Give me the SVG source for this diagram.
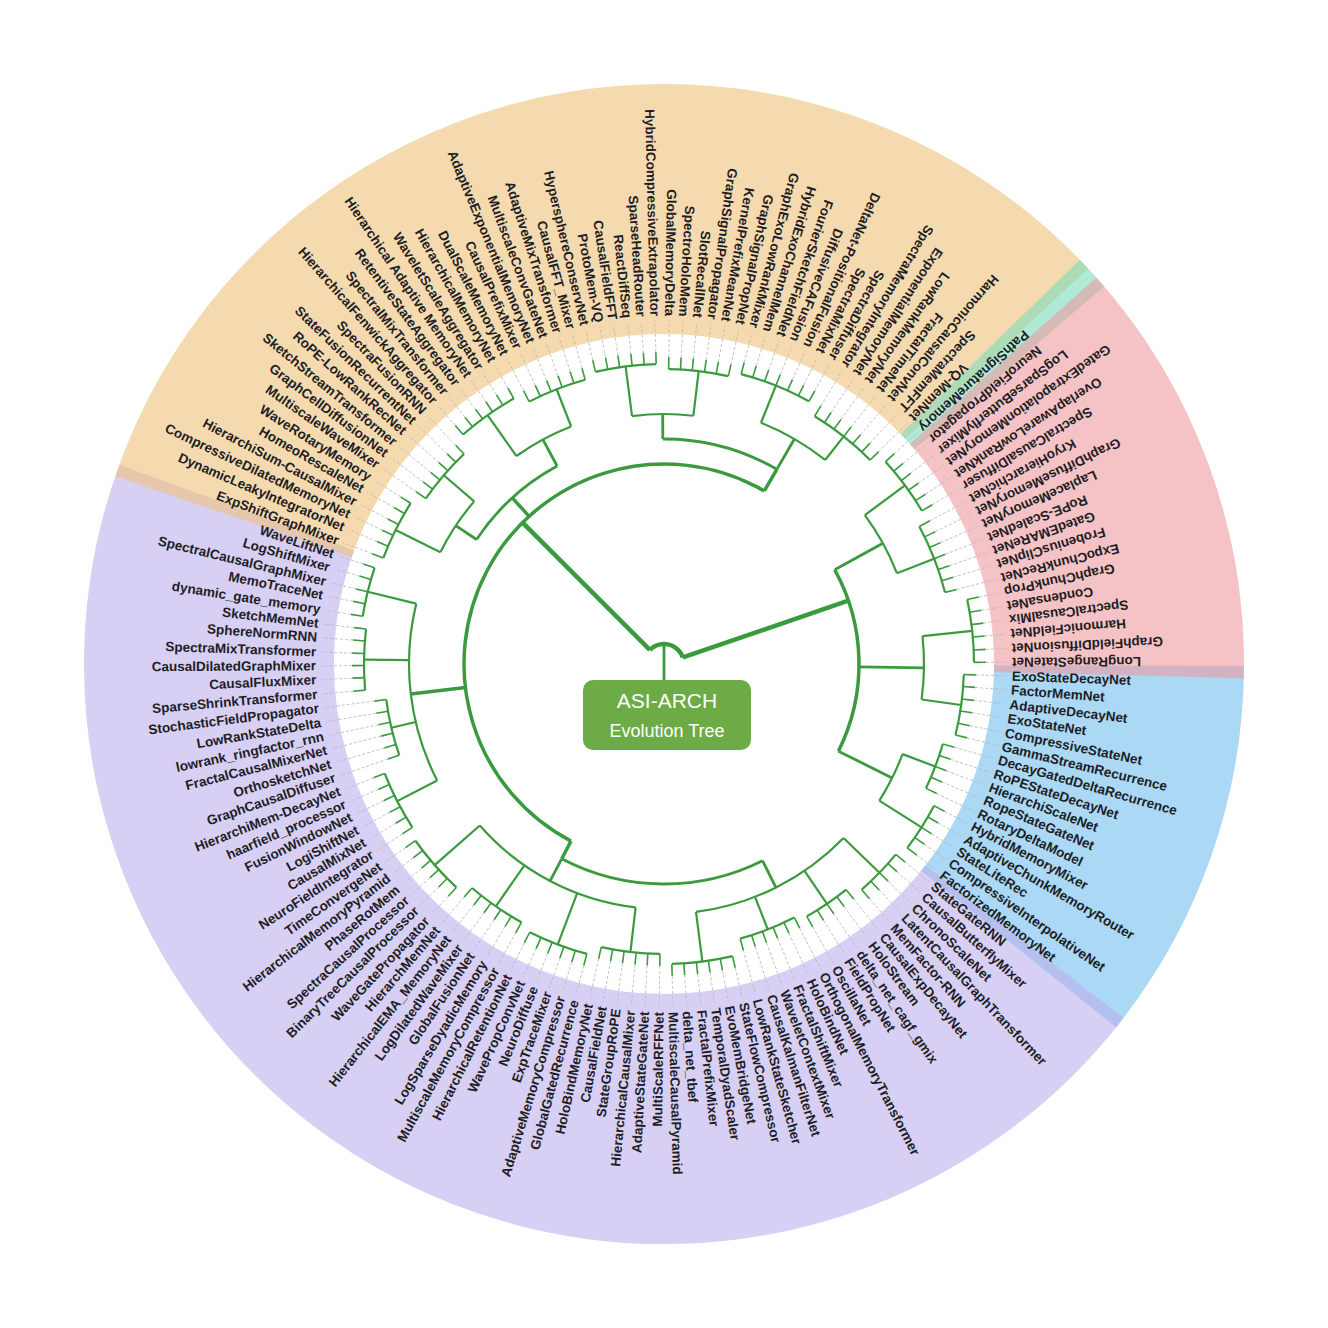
<svg xmlns="http://www.w3.org/2000/svg" width="1328" height="1328" viewBox="0 0 1328 1328">
<style>
.sec{fill:none;stroke-width:250;opacity:0.6}
.br{fill:none;stroke:#3a9a3e;stroke-linecap:butt}
.w5{stroke-width:4.5}.w4{stroke-width:3.5}.w3{stroke-width:2.8}.w2{stroke-width:2.2}
.lf{stroke:#3a9a3e;stroke-width:1.6;fill:none}
.ds{stroke:#b8b8b8;stroke-width:0.8;stroke-dasharray:3 2;fill:none}
text{font-family:"Liberation Sans",Arial,sans-serif;font-size:13.5px;font-weight:bold;fill:#1e1e24;dominant-baseline:central}
text.f{text-anchor:end}
</style>
<rect width="1328" height="1328" fill="#fff"/>
<g id="sectors">
<circle class="sec" cx="664" cy="664" r="455" pathLength="360" stroke="#71beee" stroke-dasharray="38.6 400" transform="rotate(0.2 664 664)"/>
<circle class="sec" cx="664" cy="664" r="455" pathLength="360" stroke="#bcafed" stroke-dasharray="162.5 400" transform="rotate(37.6 664 664)"/>
<circle class="sec" cx="664" cy="664" r="455" pathLength="360" stroke="#eec17b" stroke-dasharray="118.1 400" transform="rotate(198.9 664 664)"/>
<circle class="sec" cx="664" cy="664" r="455" pathLength="360" stroke="#7bdcbb" stroke-dasharray="3.6 400" transform="rotate(315.8 664 664)"/>
<circle class="sec" cx="664" cy="664" r="455" pathLength="360" stroke="#ee9b9e" stroke-dasharray="43.2 400" transform="rotate(318.2 664 664)"/>
</g>
<g id="connectors">
<path class="br w3" d="M664 644V680"/>
<circle class="br w5" cx="664" cy="664" r="20" pathLength="360" stroke-dasharray="116 400" transform="rotate(225 664 664)"/>
<path class="br w5" d="M684 664H864" transform="rotate(225 664 664)"/>
<path class="br w5" d="M684 664H859" transform="rotate(341 664 664)"/>
<circle class="br w4" cx="664" cy="664" r="200" pathLength="360" stroke-dasharray="182.4 400" transform="rotate(117.7 664 664)"/>
<circle class="br w4" cx="664" cy="664" r="195" pathLength="360" stroke-dasharray="55.45 400" transform="rotate(331.1 664 664)"/>
<path class="br w4" d="M864 664H884" transform="rotate(117.7 664 664)"/>
<path class="br w4" d="M864 664H919" transform="rotate(173.25 664 664)"/>
<path class="br w4" d="M864 664H889" transform="rotate(227.6 664 664)"/>
<path class="br w4" d="M864 664H889" transform="rotate(300.1 664 664)"/>
<path class="br w3" d="M859 664H914" transform="rotate(331.1 664 664)"/>
<path class="br w3" d="M859 664H924" transform="rotate(360.85 664 664)"/>
<path class="br w3" d="M859 664H919" transform="rotate(386.55 664 664)"/>
<circle class="br w3" cx="664" cy="664" r="220" pathLength="360" stroke-dasharray="54.3 400" transform="rotate(63.4 664 664)"/>
<circle class="br w3" cx="664" cy="664" r="225" pathLength="360" stroke-dasharray="28.05 400" transform="rotate(213.6 664 664)"/>
<circle class="br w3" cx="664" cy="664" r="225" pathLength="360" stroke-dasharray="30.4 400" transform="rotate(269.7 664 664)"/>
<path class="br w3" d="M884 664H914" transform="rotate(63.4 664 664)"/>
<path class="br w3" d="M884 664H909" transform="rotate(117.7 664 664)"/>
<path class="br w3" d="M889 664H914" transform="rotate(213.6 664 664)"/>
<path class="br w3" d="M889 664H919" transform="rotate(241.65 664 664)"/>
<path class="br w3" d="M889 664H914" transform="rotate(269.7 664 664)"/>
<path class="br w3" d="M889 664H924" transform="rotate(300.1 664 664)"/>
<circle class="br w2" cx="664" cy="664" r="250" pathLength="360" stroke-dasharray="38.55 400" transform="rotate(44.1 664 664)"/>
<circle class="br w2" cx="664" cy="664" r="245" pathLength="360" stroke-dasharray="42.1 400" transform="rotate(96.65 664 664)"/>
<circle class="br w2" cx="664" cy="664" r="255" pathLength="360" stroke-dasharray="40.9 400" transform="rotate(152.8 664 664)"/>
<circle class="br w2" cx="664" cy="664" r="250" pathLength="360" stroke-dasharray="14.05 400" transform="rotate(206.55 664 664)"/>
<circle class="br w2" cx="664" cy="664" r="255" pathLength="360" stroke-dasharray="14 400" transform="rotate(234.65 664 664)"/>
<circle class="br w2" cx="664" cy="664" r="250" pathLength="360" stroke-dasharray="14.1 400" transform="rotate(262.65 664 664)"/>
<circle class="br w2" cx="664" cy="664" r="260" pathLength="360" stroke-dasharray="16.4 400" transform="rotate(291.9 664 664)"/>
<circle class="br w2" cx="664" cy="664" r="250" pathLength="360" stroke-dasharray="15.25 400" transform="rotate(323.45 664 664)"/>
<circle class="br w2" cx="664" cy="664" r="260" pathLength="360" stroke-dasharray="14 400" transform="rotate(353.85 664 664)"/>
<circle class="br w2" cx="664" cy="664" r="255" pathLength="360" stroke-dasharray="11.7 400" transform="rotate(380.7 664 664)"/>
<path class="br w2" d="M914 664H964" transform="rotate(44.1 664 664)"/>
<path class="br w2" d="M914 664H954" transform="rotate(55.8 664 664)"/>
<path class="br w2" d="M914 664H949" transform="rotate(68.65 664 664)"/>
<path class="br w2" d="M914 664H964" transform="rotate(82.65 664 664)"/>
<path class="br w2" d="M909 664H954" transform="rotate(96.65 664 664)"/>
<path class="br w2" d="M909 664H964" transform="rotate(110.75 664 664)"/>
<path class="br w2" d="M909 664H959" transform="rotate(124.75 664 664)"/>
<path class="br w2" d="M909 664H969" transform="rotate(138.75 664 664)"/>
<path class="br w2" d="M919 664H964" transform="rotate(152.8 664 664)"/>
<path class="br w2" d="M919 664H944" transform="rotate(166.85 664 664)"/>
<path class="br w2" d="M919 664H964" transform="rotate(180.85 664 664)"/>
<path class="br w2" d="M919 664H969" transform="rotate(193.7 664 664)"/>
<path class="br w2" d="M914 664H964" transform="rotate(206.55 664 664)"/>
<path class="br w2" d="M914 664H954" transform="rotate(220.6 664 664)"/>
<path class="br w2" d="M919 664H969" transform="rotate(234.65 664 664)"/>
<path class="br w2" d="M919 664H959" transform="rotate(248.65 664 664)"/>
<path class="br w2" d="M914 664H964" transform="rotate(262.65 664 664)"/>
<path class="br w2" d="M914 664H959" transform="rotate(276.75 664 664)"/>
<path class="br w2" d="M924 664H964" transform="rotate(291.9 664 664)"/>
<path class="br w2" d="M924 664H954" transform="rotate(308.3 664 664)"/>
<path class="br w2" d="M914 664H964" transform="rotate(323.45 664 664)"/>
<path class="br w2" d="M914 664H954" transform="rotate(338.7 664 664)"/>
<path class="br w2" d="M924 664H974" transform="rotate(353.85 664 664)"/>
<path class="br w2" d="M924 664H964" transform="rotate(367.85 664 664)"/>
<path class="br w2" d="M919 664H954" transform="rotate(380.7 664 664)"/>
<path class="br w2" d="M919 664H969" transform="rotate(392.4 664 664)"/>
<circle class="br w2" cx="664" cy="664" r="300" pathLength="360" stroke-dasharray="9.4 400" transform="rotate(39.4 664 664)"/>
<circle class="br w2" cx="664" cy="664" r="290" pathLength="360" stroke-dasharray="9.4 400" transform="rotate(51.1 664 664)"/>
<circle class="br w2" cx="664" cy="664" r="285" pathLength="360" stroke-dasharray="11.7 400" transform="rotate(62.8 664 664)"/>
<circle class="br w2" cx="664" cy="664" r="300" pathLength="360" stroke-dasharray="11.7 400" transform="rotate(76.8 664 664)"/>
<circle class="br w2" cx="664" cy="664" r="290" pathLength="360" stroke-dasharray="11.7 400" transform="rotate(90.8 664 664)"/>
<circle class="br w2" cx="664" cy="664" r="300" pathLength="360" stroke-dasharray="11.7 400" transform="rotate(104.9 664 664)"/>
<circle class="br w2" cx="664" cy="664" r="295" pathLength="360" stroke-dasharray="11.7 400" transform="rotate(118.9 664 664)"/>
<circle class="br w2" cx="664" cy="664" r="305" pathLength="360" stroke-dasharray="11.7 400" transform="rotate(132.9 664 664)"/>
<circle class="br w2" cx="664" cy="664" r="300" pathLength="360" stroke-dasharray="11.6 400" transform="rotate(147 664 664)"/>
<circle class="br w2" cx="664" cy="664" r="280" pathLength="360" stroke-dasharray="11.7 400" transform="rotate(161 664 664)"/>
<circle class="br w2" cx="664" cy="664" r="300" pathLength="360" stroke-dasharray="11.7 400" transform="rotate(175 664 664)"/>
<circle class="br w2" cx="664" cy="664" r="305" pathLength="360" stroke-dasharray="9.4 400" transform="rotate(189 664 664)"/>
<circle class="br w2" cx="664" cy="664" r="300" pathLength="360" stroke-dasharray="11.7 400" transform="rotate(200.7 664 664)"/>
<circle class="br w2" cx="664" cy="664" r="290" pathLength="360" stroke-dasharray="11.6 400" transform="rotate(214.8 664 664)"/>
<circle class="br w2" cx="664" cy="664" r="305" pathLength="360" stroke-dasharray="11.7 400" transform="rotate(228.8 664 664)"/>
<circle class="br w2" cx="664" cy="664" r="295" pathLength="360" stroke-dasharray="11.7 400" transform="rotate(242.8 664 664)"/>
<circle class="br w2" cx="664" cy="664" r="300" pathLength="360" stroke-dasharray="11.7 400" transform="rotate(256.8 664 664)"/>
<circle class="br w2" cx="664" cy="664" r="295" pathLength="360" stroke-dasharray="11.7 400" transform="rotate(270.9 664 664)"/>
<circle class="br w2" cx="664" cy="664" r="300" pathLength="360" stroke-dasharray="14 400" transform="rotate(284.9 664 664)"/>
<circle class="br w2" cx="664" cy="664" r="290" pathLength="360" stroke-dasharray="14 400" transform="rotate(301.3 664 664)"/>
<circle class="br w2" cx="664" cy="664" r="300" pathLength="360" stroke-dasharray="11.7 400" transform="rotate(317.6 664 664)"/>
<circle class="br w2" cx="664" cy="664" r="290" pathLength="360" stroke-dasharray="14 400" transform="rotate(331.7 664 664)"/>
<circle class="br w2" cx="664" cy="664" r="310" pathLength="360" stroke-dasharray="11.7 400" transform="rotate(348 664 664)"/>
<circle class="br w2" cx="664" cy="664" r="300" pathLength="360" stroke-dasharray="11.7 400" transform="rotate(2 664 664)"/>
<circle class="br w2" cx="664" cy="664" r="290" pathLength="360" stroke-dasharray="9.4 400" transform="rotate(16 664 664)"/>
<circle class="br w2" cx="664" cy="664" r="305" pathLength="360" stroke-dasharray="9.4 400" transform="rotate(27.7 664 664)"/>
</g>
<g id="leaves">
<g transform="rotate(2.0 664 664)"><path class="lf" d="M964 664h12"/><path class="ds" d="M976 664H1007"/><text x="1012" y="664">ExoStateDecayNet</text></g>
<g transform="rotate(4.3 664 664)"><path class="lf" d="M964 664h12"/><path class="ds" d="M976 664H1007"/><text x="1012" y="664">FactorMemNet</text></g>
<g transform="rotate(6.7 664 664)"><path class="lf" d="M964 664h12"/><path class="ds" d="M976 664H1007"/><text x="1012" y="664">AdaptiveDecayNet</text></g>
<g transform="rotate(9.0 664 664)"><path class="lf" d="M964 664h12"/><path class="ds" d="M976 664H1007"/><text x="1012" y="664">ExoStateNet</text></g>
<g transform="rotate(11.4 664 664)"><path class="lf" d="M964 664h12"/><path class="ds" d="M976 664H1007"/><text x="1012" y="664">CompressiveStateNet</text></g>
<g transform="rotate(13.7 664 664)"><path class="lf" d="M964 664h12"/><path class="ds" d="M976 664H1007"/><text x="1012" y="664">GammaStreamRecurrence</text></g>
<g transform="rotate(16.0 664 664)"><path class="lf" d="M954 664h12"/><path class="ds" d="M966 664H1007"/><text x="1012" y="664">DecayGatedDeltaRecurrence</text></g>
<g transform="rotate(18.4 664 664)"><path class="lf" d="M954 664h12"/><path class="ds" d="M966 664H1007"/><text x="1012" y="664">RoPEStateDecayNet</text></g>
<g transform="rotate(20.7 664 664)"><path class="lf" d="M954 664h12"/><path class="ds" d="M966 664H1007"/><text x="1012" y="664">HierarchiScaleNet</text></g>
<g transform="rotate(23.0 664 664)"><path class="lf" d="M954 664h12"/><path class="ds" d="M966 664H1007"/><text x="1012" y="664">RopeStateGateNet</text></g>
<g transform="rotate(25.4 664 664)"><path class="lf" d="M954 664h12"/><path class="ds" d="M966 664H1007"/><text x="1012" y="664">RotaryDeltaModel</text></g>
<g transform="rotate(27.7 664 664)"><path class="lf" d="M969 664h12"/><path class="ds" d="M981 664H1007"/><text x="1012" y="664">HybridMemoryMixer</text></g>
<g transform="rotate(30.1 664 664)"><path class="lf" d="M969 664h12"/><path class="ds" d="M981 664H1007"/><text x="1012" y="664">AdaptiveChunkMemoryRouter</text></g>
<g transform="rotate(32.4 664 664)"><path class="lf" d="M969 664h12"/><path class="ds" d="M981 664H1007"/><text x="1012" y="664">StateLiteRec</text></g>
<g transform="rotate(34.7 664 664)"><path class="lf" d="M969 664h12"/><path class="ds" d="M981 664H1007"/><text x="1012" y="664">CompressiveInterpolativeNet</text></g>
<g transform="rotate(37.1 664 664)"><path class="lf" d="M969 664h12"/><path class="ds" d="M981 664H1007"/><text x="1012" y="664">FactorizedMemoryNet</text></g>
<g transform="rotate(39.4 664 664)"><path class="lf" d="M964 664h12"/><path class="ds" d="M976 664H1007"/><text x="1012" y="664">StateGateRNN</text></g>
<g transform="rotate(41.7 664 664)"><path class="lf" d="M964 664h12"/><path class="ds" d="M976 664H1007"/><text x="1012" y="664">CausalButterflyMixer</text></g>
<g transform="rotate(44.1 664 664)"><path class="lf" d="M964 664h12"/><path class="ds" d="M976 664H1007"/><text x="1012" y="664">ChronoScaleNet</text></g>
<g transform="rotate(46.4 664 664)"><path class="lf" d="M964 664h12"/><path class="ds" d="M976 664H1007"/><text x="1012" y="664">LatentCausalGraphTransformer</text></g>
<g transform="rotate(48.8 664 664)"><path class="lf" d="M964 664h12"/><path class="ds" d="M976 664H1007"/><text x="1012" y="664">MemFactor-RNN</text></g>
<g transform="rotate(51.1 664 664)"><path class="lf" d="M954 664h12"/><path class="ds" d="M966 664H1007"/><text x="1012" y="664">CausalExpDecayNet</text></g>
<g transform="rotate(53.4 664 664)"><path class="lf" d="M954 664h12"/><path class="ds" d="M966 664H1007"/><text x="1012" y="664">HoloStream</text></g>
<g transform="rotate(55.8 664 664)"><path class="lf" d="M954 664h12"/><path class="ds" d="M966 664H1007"/><text x="1012" y="664">delta_net_cagf_gmix</text></g>
<g transform="rotate(58.1 664 664)"><path class="lf" d="M954 664h12"/><path class="ds" d="M966 664H1007"/><text x="1012" y="664">FieldPropNet</text></g>
<g transform="rotate(60.5 664 664)"><path class="lf" d="M954 664h12"/><path class="ds" d="M966 664H1007"/><text x="1012" y="664">OscillaNet</text></g>
<g transform="rotate(62.8 664 664)"><path class="lf" d="M949 664h12"/><path class="ds" d="M961 664H1007"/><text x="1012" y="664">OrthogonalMemoryTransformer</text></g>
<g transform="rotate(65.1 664 664)"><path class="lf" d="M949 664h12"/><path class="ds" d="M961 664H1007"/><text x="1012" y="664">HoloBindNet</text></g>
<g transform="rotate(67.5 664 664)"><path class="lf" d="M949 664h12"/><path class="ds" d="M961 664H1007"/><text x="1012" y="664">FractalShiftMixer</text></g>
<g transform="rotate(69.8 664 664)"><path class="lf" d="M949 664h12"/><path class="ds" d="M961 664H1007"/><text x="1012" y="664">WaveletContextMixer</text></g>
<g transform="rotate(72.1 664 664)"><path class="lf" d="M949 664h12"/><path class="ds" d="M961 664H1007"/><text x="1012" y="664">CausalKalmanFilterNet</text></g>
<g transform="rotate(74.5 664 664)"><path class="lf" d="M949 664h12"/><path class="ds" d="M961 664H1007"/><text x="1012" y="664">LowRankStateSketcher</text></g>
<g transform="rotate(76.8 664 664)"><path class="lf" d="M964 664h12"/><path class="ds" d="M976 664H1007"/><text x="1012" y="664">StateFlowCompressor</text></g>
<g transform="rotate(79.2 664 664)"><path class="lf" d="M964 664h12"/><path class="ds" d="M976 664H1007"/><text x="1012" y="664">EvoMemBridgeNet</text></g>
<g transform="rotate(81.5 664 664)"><path class="lf" d="M964 664h12"/><path class="ds" d="M976 664H1007"/><text x="1012" y="664">TemporalDyadScaler</text></g>
<g transform="rotate(83.8 664 664)"><path class="lf" d="M964 664h12"/><path class="ds" d="M976 664H1007"/><text x="1012" y="664">FractalPrefixMixer</text></g>
<g transform="rotate(86.2 664 664)"><path class="lf" d="M964 664h12"/><path class="ds" d="M976 664H1007"/><text x="1012" y="664">delta_net_tbef</text></g>
<g transform="rotate(88.5 664 664)"><path class="lf" d="M964 664h12"/><path class="ds" d="M976 664H1007"/><text x="1012" y="664">MultiscaleCausalPyramid</text></g>
<g transform="rotate(90.8 664 664)"><path class="lf" d="M954 664h12"/><path class="ds" d="M966 664H1007"/><text class="f" x="1012" y="664" transform="rotate(180 1012 664)">MultiScaleRFFNet</text></g>
<g transform="rotate(93.2 664 664)"><path class="lf" d="M954 664h12"/><path class="ds" d="M966 664H1007"/><text class="f" x="1012" y="664" transform="rotate(180 1012 664)">AdaptiveStateGateNet</text></g>
<g transform="rotate(95.5 664 664)"><path class="lf" d="M954 664h12"/><path class="ds" d="M966 664H1007"/><text class="f" x="1012" y="664" transform="rotate(180 1012 664)">HierarchicalCausalMixer</text></g>
<g transform="rotate(97.9 664 664)"><path class="lf" d="M954 664h12"/><path class="ds" d="M966 664H1007"/><text class="f" x="1012" y="664" transform="rotate(180 1012 664)">StateGroupRoPE</text></g>
<g transform="rotate(100.2 664 664)"><path class="lf" d="M954 664h12"/><path class="ds" d="M966 664H1007"/><text class="f" x="1012" y="664" transform="rotate(180 1012 664)">CausalFieldNet</text></g>
<g transform="rotate(102.5 664 664)"><path class="lf" d="M954 664h12"/><path class="ds" d="M966 664H1007"/><text class="f" x="1012" y="664" transform="rotate(180 1012 664)">HoloBindMemoryNet</text></g>
<g transform="rotate(104.9 664 664)"><path class="lf" d="M964 664h12"/><path class="ds" d="M976 664H1007"/><text class="f" x="1012" y="664" transform="rotate(180 1012 664)">GlobalGatedRecurrence</text></g>
<g transform="rotate(107.2 664 664)"><path class="lf" d="M964 664h12"/><path class="ds" d="M976 664H1007"/><text class="f" x="1012" y="664" transform="rotate(180 1012 664)">AdaptiveMemoryCompressor</text></g>
<g transform="rotate(109.5 664 664)"><path class="lf" d="M964 664h12"/><path class="ds" d="M976 664H1007"/><text class="f" x="1012" y="664" transform="rotate(180 1012 664)">ExpTraceMixer</text></g>
<g transform="rotate(111.9 664 664)"><path class="lf" d="M964 664h12"/><path class="ds" d="M976 664H1007"/><text class="f" x="1012" y="664" transform="rotate(180 1012 664)">NeuroDiffuse</text></g>
<g transform="rotate(114.2 664 664)"><path class="lf" d="M964 664h12"/><path class="ds" d="M976 664H1007"/><text class="f" x="1012" y="664" transform="rotate(180 1012 664)">WavePropConvNet</text></g>
<g transform="rotate(116.6 664 664)"><path class="lf" d="M964 664h12"/><path class="ds" d="M976 664H1007"/><text class="f" x="1012" y="664" transform="rotate(180 1012 664)">HierarchicalRetentionNet</text></g>
<g transform="rotate(118.9 664 664)"><path class="lf" d="M959 664h12"/><path class="ds" d="M971 664H1007"/><text class="f" x="1012" y="664" transform="rotate(180 1012 664)">MultiscaleMemoryCompressor</text></g>
<g transform="rotate(121.2 664 664)"><path class="lf" d="M959 664h12"/><path class="ds" d="M971 664H1007"/><text class="f" x="1012" y="664" transform="rotate(180 1012 664)">LogSparseDyadicMemory</text></g>
<g transform="rotate(123.6 664 664)"><path class="lf" d="M959 664h12"/><path class="ds" d="M971 664H1007"/><text class="f" x="1012" y="664" transform="rotate(180 1012 664)">GlobalFusionNet</text></g>
<g transform="rotate(125.9 664 664)"><path class="lf" d="M959 664h12"/><path class="ds" d="M971 664H1007"/><text class="f" x="1012" y="664" transform="rotate(180 1012 664)">LogDilatedWaveMixer</text></g>
<g transform="rotate(128.3 664 664)"><path class="lf" d="M959 664h12"/><path class="ds" d="M971 664H1007"/><text class="f" x="1012" y="664" transform="rotate(180 1012 664)">HierarchicalEMA_MemoryNet</text></g>
<g transform="rotate(130.6 664 664)"><path class="lf" d="M959 664h12"/><path class="ds" d="M971 664H1007"/><text class="f" x="1012" y="664" transform="rotate(180 1012 664)">HierarchMemNet</text></g>
<g transform="rotate(132.9 664 664)"><path class="lf" d="M969 664h12"/><path class="ds" d="M981 664H1007"/><text class="f" x="1012" y="664" transform="rotate(180 1012 664)">WaveGatePropagator</text></g>
<g transform="rotate(135.3 664 664)"><path class="lf" d="M969 664h12"/><path class="ds" d="M981 664H1007"/><text class="f" x="1012" y="664" transform="rotate(180 1012 664)">BinaryTreeCausalProcessor</text></g>
<g transform="rotate(137.6 664 664)"><path class="lf" d="M969 664h12"/><path class="ds" d="M981 664H1007"/><text class="f" x="1012" y="664" transform="rotate(180 1012 664)">SpectraCausalProcessor</text></g>
<g transform="rotate(139.9 664 664)"><path class="lf" d="M969 664h12"/><path class="ds" d="M981 664H1007"/><text class="f" x="1012" y="664" transform="rotate(180 1012 664)">PhaseRotMem</text></g>
<g transform="rotate(142.3 664 664)"><path class="lf" d="M969 664h12"/><path class="ds" d="M981 664H1007"/><text class="f" x="1012" y="664" transform="rotate(180 1012 664)">HierarchicalMemoryPyramid</text></g>
<g transform="rotate(144.6 664 664)"><path class="lf" d="M969 664h12"/><path class="ds" d="M981 664H1007"/><text class="f" x="1012" y="664" transform="rotate(180 1012 664)">TimeConvergeNet</text></g>
<g transform="rotate(147.0 664 664)"><path class="lf" d="M964 664h12"/><path class="ds" d="M976 664H1007"/><text class="f" x="1012" y="664" transform="rotate(180 1012 664)">NeuroFieldIntegrator</text></g>
<g transform="rotate(149.3 664 664)"><path class="lf" d="M964 664h12"/><path class="ds" d="M976 664H1007"/><text class="f" x="1012" y="664" transform="rotate(180 1012 664)">CausalMixNet</text></g>
<g transform="rotate(151.6 664 664)"><path class="lf" d="M964 664h12"/><path class="ds" d="M976 664H1007"/><text class="f" x="1012" y="664" transform="rotate(180 1012 664)">LogiShiftNet</text></g>
<g transform="rotate(154.0 664 664)"><path class="lf" d="M964 664h12"/><path class="ds" d="M976 664H1007"/><text class="f" x="1012" y="664" transform="rotate(180 1012 664)">FusionWindowNet</text></g>
<g transform="rotate(156.3 664 664)"><path class="lf" d="M964 664h12"/><path class="ds" d="M976 664H1007"/><text class="f" x="1012" y="664" transform="rotate(180 1012 664)">haarfield_processor</text></g>
<g transform="rotate(158.6 664 664)"><path class="lf" d="M964 664h12"/><path class="ds" d="M976 664H1007"/><text class="f" x="1012" y="664" transform="rotate(180 1012 664)">HierarchiMem-DecayNet</text></g>
<g transform="rotate(161.0 664 664)"><path class="lf" d="M944 664h12"/><path class="ds" d="M956 664H1007"/><text class="f" x="1012" y="664" transform="rotate(180 1012 664)">GraphCausalDiffuser</text></g>
<g transform="rotate(163.3 664 664)"><path class="lf" d="M944 664h12"/><path class="ds" d="M956 664H1007"/><text class="f" x="1012" y="664" transform="rotate(180 1012 664)">OrthosketchNet</text></g>
<g transform="rotate(165.7 664 664)"><path class="lf" d="M944 664h12"/><path class="ds" d="M956 664H1007"/><text class="f" x="1012" y="664" transform="rotate(180 1012 664)">FractalCausalMixerNet</text></g>
<g transform="rotate(168.0 664 664)"><path class="lf" d="M944 664h12"/><path class="ds" d="M956 664H1007"/><text class="f" x="1012" y="664" transform="rotate(180 1012 664)">lowrank_ringfactor_rnn</text></g>
<g transform="rotate(170.3 664 664)"><path class="lf" d="M944 664h12"/><path class="ds" d="M956 664H1007"/><text class="f" x="1012" y="664" transform="rotate(180 1012 664)">LowRankStateDelta</text></g>
<g transform="rotate(172.7 664 664)"><path class="lf" d="M944 664h12"/><path class="ds" d="M956 664H1007"/><text class="f" x="1012" y="664" transform="rotate(180 1012 664)">StochasticFieldPropagator</text></g>
<g transform="rotate(175.0 664 664)"><path class="lf" d="M964 664h12"/><path class="ds" d="M976 664H1007"/><text class="f" x="1012" y="664" transform="rotate(180 1012 664)">SparseShrinkTransformer</text></g>
<g transform="rotate(177.4 664 664)"><path class="lf" d="M964 664h12"/><path class="ds" d="M976 664H1007"/><text class="f" x="1012" y="664" transform="rotate(180 1012 664)">CausalFluxMixer</text></g>
<g transform="rotate(179.7 664 664)"><path class="lf" d="M964 664h12"/><path class="ds" d="M976 664H1007"/><text class="f" x="1012" y="664" transform="rotate(180 1012 664)">CausalDilatedGraphMixer</text></g>
<g transform="rotate(182.0 664 664)"><path class="lf" d="M964 664h12"/><path class="ds" d="M976 664H1007"/><text class="f" x="1012" y="664" transform="rotate(180 1012 664)">SpectraMixTransformer</text></g>
<g transform="rotate(184.4 664 664)"><path class="lf" d="M964 664h12"/><path class="ds" d="M976 664H1007"/><text class="f" x="1012" y="664" transform="rotate(180 1012 664)">SphereNormRNN</text></g>
<g transform="rotate(186.7 664 664)"><path class="lf" d="M964 664h12"/><path class="ds" d="M976 664H1007"/><text class="f" x="1012" y="664" transform="rotate(180 1012 664)">SketchMemNet</text></g>
<g transform="rotate(189.0 664 664)"><path class="lf" d="M969 664h12"/><path class="ds" d="M981 664H1007"/><text class="f" x="1012" y="664" transform="rotate(180 1012 664)">dynamic_gate_memory</text></g>
<g transform="rotate(191.4 664 664)"><path class="lf" d="M969 664h12"/><path class="ds" d="M981 664H1007"/><text class="f" x="1012" y="664" transform="rotate(180 1012 664)">MemoTraceNet</text></g>
<g transform="rotate(193.7 664 664)"><path class="lf" d="M969 664h12"/><path class="ds" d="M981 664H1007"/><text class="f" x="1012" y="664" transform="rotate(180 1012 664)">SpectralCausalGraphMixer</text></g>
<g transform="rotate(196.1 664 664)"><path class="lf" d="M969 664h12"/><path class="ds" d="M981 664H1007"/><text class="f" x="1012" y="664" transform="rotate(180 1012 664)">LogShiftMixer</text></g>
<g transform="rotate(198.4 664 664)"><path class="lf" d="M969 664h12"/><path class="ds" d="M981 664H1007"/><text class="f" x="1012" y="664" transform="rotate(180 1012 664)">WaveLiftNet</text></g>
<g transform="rotate(200.7 664 664)"><path class="lf" d="M964 664h12"/><path class="ds" d="M976 664H1007"/><text class="f" x="1012" y="664" transform="rotate(180 1012 664)">ExpShiftGraphMixer</text></g>
<g transform="rotate(203.1 664 664)"><path class="lf" d="M964 664h12"/><path class="ds" d="M976 664H1007"/><text class="f" x="1012" y="664" transform="rotate(180 1012 664)">DynamicLeakyIntegratorNet</text></g>
<g transform="rotate(205.4 664 664)"><path class="lf" d="M964 664h12"/><path class="ds" d="M976 664H1007"/><text class="f" x="1012" y="664" transform="rotate(180 1012 664)">CompressiveDilatedMemoryNet</text></g>
<g transform="rotate(207.7 664 664)"><path class="lf" d="M964 664h12"/><path class="ds" d="M976 664H1007"/><text class="f" x="1012" y="664" transform="rotate(180 1012 664)">HierarchiSum-CausalMixer</text></g>
<g transform="rotate(210.1 664 664)"><path class="lf" d="M964 664h12"/><path class="ds" d="M976 664H1007"/><text class="f" x="1012" y="664" transform="rotate(180 1012 664)">HomeoRescaleNet</text></g>
<g transform="rotate(212.4 664 664)"><path class="lf" d="M964 664h12"/><path class="ds" d="M976 664H1007"/><text class="f" x="1012" y="664" transform="rotate(180 1012 664)">WaveRotaryMemory</text></g>
<g transform="rotate(214.8 664 664)"><path class="lf" d="M954 664h12"/><path class="ds" d="M966 664H1007"/><text class="f" x="1012" y="664" transform="rotate(180 1012 664)">MultiscaleWaveMixer</text></g>
<g transform="rotate(217.1 664 664)"><path class="lf" d="M954 664h12"/><path class="ds" d="M966 664H1007"/><text class="f" x="1012" y="664" transform="rotate(180 1012 664)">GraphCellDiffusionNet</text></g>
<g transform="rotate(219.4 664 664)"><path class="lf" d="M954 664h12"/><path class="ds" d="M966 664H1007"/><text class="f" x="1012" y="664" transform="rotate(180 1012 664)">SketchStreamTransformer</text></g>
<g transform="rotate(221.8 664 664)"><path class="lf" d="M954 664h12"/><path class="ds" d="M966 664H1007"/><text class="f" x="1012" y="664" transform="rotate(180 1012 664)">RoPE-LowRankRecNet</text></g>
<g transform="rotate(224.1 664 664)"><path class="lf" d="M954 664h12"/><path class="ds" d="M966 664H1007"/><text class="f" x="1012" y="664" transform="rotate(180 1012 664)">StateFusionRecurrentNet</text></g>
<g transform="rotate(226.4 664 664)"><path class="lf" d="M954 664h12"/><path class="ds" d="M966 664H1007"/><text class="f" x="1012" y="664" transform="rotate(180 1012 664)">SpectraFusionRNN</text></g>
<g transform="rotate(228.8 664 664)"><path class="lf" d="M969 664h12"/><path class="ds" d="M981 664H1007"/><text class="f" x="1012" y="664" transform="rotate(180 1012 664)">HierarchicalFenwickAggregator</text></g>
<g transform="rotate(231.1 664 664)"><path class="lf" d="M969 664h12"/><path class="ds" d="M981 664H1007"/><text class="f" x="1012" y="664" transform="rotate(180 1012 664)">SpectralMixTransformer</text></g>
<g transform="rotate(233.5 664 664)"><path class="lf" d="M969 664h12"/><path class="ds" d="M981 664H1007"/><text class="f" x="1012" y="664" transform="rotate(180 1012 664)">RetentiveStateAggregator</text></g>
<g transform="rotate(235.8 664 664)"><path class="lf" d="M969 664h12"/><path class="ds" d="M981 664H1007"/><text class="f" x="1012" y="664" transform="rotate(180 1012 664)">Hierarchical Adaptive MemoryNet</text></g>
<g transform="rotate(238.1 664 664)"><path class="lf" d="M969 664h12"/><path class="ds" d="M981 664H1007"/><text class="f" x="1012" y="664" transform="rotate(180 1012 664)">WaveletScaleAggregator</text></g>
<g transform="rotate(240.5 664 664)"><path class="lf" d="M969 664h12"/><path class="ds" d="M981 664H1007"/><text class="f" x="1012" y="664" transform="rotate(180 1012 664)">HierarchicalMemoryNet</text></g>
<g transform="rotate(242.8 664 664)"><path class="lf" d="M959 664h12"/><path class="ds" d="M971 664H1007"/><text class="f" x="1012" y="664" transform="rotate(180 1012 664)">DualScaleMemoryNet</text></g>
<g transform="rotate(245.2 664 664)"><path class="lf" d="M959 664h12"/><path class="ds" d="M971 664H1007"/><text class="f" x="1012" y="664" transform="rotate(180 1012 664)">CausalPrefixMixer</text></g>
<g transform="rotate(247.5 664 664)"><path class="lf" d="M959 664h12"/><path class="ds" d="M971 664H1007"/><text class="f" x="1012" y="664" transform="rotate(180 1012 664)">AdaptiveExponentialMemoryNet</text></g>
<g transform="rotate(249.8 664 664)"><path class="lf" d="M959 664h12"/><path class="ds" d="M971 664H1007"/><text class="f" x="1012" y="664" transform="rotate(180 1012 664)">MultiscaleConvGateNet</text></g>
<g transform="rotate(252.2 664 664)"><path class="lf" d="M959 664h12"/><path class="ds" d="M971 664H1007"/><text class="f" x="1012" y="664" transform="rotate(180 1012 664)">AdaptiveMixTransformer</text></g>
<g transform="rotate(254.5 664 664)"><path class="lf" d="M959 664h12"/><path class="ds" d="M971 664H1007"/><text class="f" x="1012" y="664" transform="rotate(180 1012 664)">CausalFFT_Mixer</text></g>
<g transform="rotate(256.8 664 664)"><path class="lf" d="M964 664h12"/><path class="ds" d="M976 664H1007"/><text class="f" x="1012" y="664" transform="rotate(180 1012 664)">HypersphereConservNet</text></g>
<g transform="rotate(259.2 664 664)"><path class="lf" d="M964 664h12"/><path class="ds" d="M976 664H1007"/><text class="f" x="1012" y="664" transform="rotate(180 1012 664)">ProtoMem-VQ</text></g>
<g transform="rotate(261.5 664 664)"><path class="lf" d="M964 664h12"/><path class="ds" d="M976 664H1007"/><text class="f" x="1012" y="664" transform="rotate(180 1012 664)">CausalFieldFFT</text></g>
<g transform="rotate(263.9 664 664)"><path class="lf" d="M964 664h12"/><path class="ds" d="M976 664H1007"/><text class="f" x="1012" y="664" transform="rotate(180 1012 664)">ReactDiffSeq</text></g>
<g transform="rotate(266.2 664 664)"><path class="lf" d="M964 664h12"/><path class="ds" d="M976 664H1007"/><text class="f" x="1012" y="664" transform="rotate(180 1012 664)">SparseHeadRouter</text></g>
<g transform="rotate(268.5 664 664)"><path class="lf" d="M964 664h12"/><path class="ds" d="M976 664H1007"/><text class="f" x="1012" y="664" transform="rotate(180 1012 664)">HybridCompressiveExtrapolator</text></g>
<g transform="rotate(270.9 664 664)"><path class="lf" d="M959 664h12"/><path class="ds" d="M971 664H1007"/><text class="f" x="1012" y="664" transform="rotate(180 1012 664)">GlobalMemoryDelta</text></g>
<g transform="rotate(273.2 664 664)"><path class="lf" d="M959 664h12"/><path class="ds" d="M971 664H1007"/><text class="f" x="1012" y="664" transform="rotate(180 1012 664)">SpectroHoloMem</text></g>
<g transform="rotate(275.5 664 664)"><path class="lf" d="M959 664h12"/><path class="ds" d="M971 664H1007"/><text class="f" x="1012" y="664" transform="rotate(180 1012 664)">SlotRecallNet</text></g>
<g transform="rotate(277.9 664 664)"><path class="lf" d="M959 664h12"/><path class="ds" d="M971 664H1007"/><text class="f" x="1012" y="664" transform="rotate(180 1012 664)">GraphSignalPropagator</text></g>
<g transform="rotate(280.2 664 664)"><path class="lf" d="M959 664h12"/><path class="ds" d="M971 664H1007"/><text class="f" x="1012" y="664" transform="rotate(180 1012 664)">KernelPrefixMeanNet</text></g>
<g transform="rotate(282.6 664 664)"><path class="lf" d="M959 664h12"/><path class="ds" d="M971 664H1007"/><text class="f" x="1012" y="664" transform="rotate(180 1012 664)">GraphSignalPropNet</text></g>
<g transform="rotate(284.9 664 664)"><path class="lf" d="M964 664h12"/><path class="ds" d="M976 664H1007"/><text class="f" x="1012" y="664" transform="rotate(180 1012 664)">GraphExoLowRankMixer</text></g>
<g transform="rotate(287.2 664 664)"><path class="lf" d="M964 664h12"/><path class="ds" d="M976 664H1007"/><text class="f" x="1012" y="664" transform="rotate(180 1012 664)">HybridExoChannelMem</text></g>
<g transform="rotate(289.6 664 664)"><path class="lf" d="M964 664h12"/><path class="ds" d="M976 664H1007"/><text class="f" x="1012" y="664" transform="rotate(180 1012 664)">FourierSketchFieldNet</text></g>
<g transform="rotate(291.9 664 664)"><path class="lf" d="M964 664h12"/><path class="ds" d="M976 664H1007"/><text class="f" x="1012" y="664" transform="rotate(180 1012 664)">DiffusiveCAFusion</text></g>
<g transform="rotate(294.3 664 664)"><path class="lf" d="M964 664h12"/><path class="ds" d="M976 664H1007"/><text class="f" x="1012" y="664" transform="rotate(180 1012 664)">DeltaNet-PositionalFusion</text></g>
<g transform="rotate(296.6 664 664)"><path class="lf" d="M964 664h12"/><path class="ds" d="M976 664H1007"/><text class="f" x="1012" y="664" transform="rotate(180 1012 664)">SpectraMixNet</text></g>
<g transform="rotate(298.9 664 664)"><path class="lf" d="M964 664h12"/><path class="ds" d="M976 664H1007"/><text class="f" x="1012" y="664" transform="rotate(180 1012 664)">SpectraDiffuser</text></g>
<g transform="rotate(301.3 664 664)"><path class="lf" d="M954 664h12"/><path class="ds" d="M966 664H1007"/><text class="f" x="1012" y="664" transform="rotate(180 1012 664)">SpectraMemoryIntegrator</text></g>
<g transform="rotate(303.6 664 664)"><path class="lf" d="M954 664h12"/><path class="ds" d="M966 664H1007"/><text class="f" x="1012" y="664" transform="rotate(180 1012 664)">ExponentialMemoryNet</text></g>
<g transform="rotate(305.9 664 664)"><path class="lf" d="M954 664h12"/><path class="ds" d="M966 664H1007"/><text class="f" x="1012" y="664" transform="rotate(180 1012 664)">LowRankMemoryNet</text></g>
<g transform="rotate(308.3 664 664)"><path class="lf" d="M954 664h12"/><path class="ds" d="M966 664H1007"/><text class="f" x="1012" y="664" transform="rotate(180 1012 664)">FractalTimeNet</text></g>
<g transform="rotate(310.6 664 664)"><path class="lf" d="M954 664h12"/><path class="ds" d="M966 664H1007"/><text class="f" x="1012" y="664" transform="rotate(180 1012 664)">HarmonicCausalConvNet</text></g>
<g transform="rotate(313.0 664 664)"><path class="lf" d="M954 664h12"/><path class="ds" d="M966 664H1007"/><text class="f" x="1012" y="664" transform="rotate(180 1012 664)">SpectraMemFFT</text></g>
<g transform="rotate(315.3 664 664)"><path class="lf" d="M954 664h12"/><path class="ds" d="M966 664H1007"/><text class="f" x="1012" y="664" transform="rotate(180 1012 664)">VQ-MemNet</text></g>
<g transform="rotate(317.6 664 664)"><path class="lf" d="M964 664h12"/><path class="ds" d="M976 664H1007"/><text class="f" x="1012" y="664" transform="rotate(180 1012 664)">PathSignatureMemory</text></g>
<g transform="rotate(320.0 664 664)"><path class="lf" d="M964 664h12"/><path class="ds" d="M976 664H1007"/><text class="f" x="1012" y="664" transform="rotate(180 1012 664)">NeuroFieldPropagator</text></g>
<g transform="rotate(322.3 664 664)"><path class="lf" d="M964 664h12"/><path class="ds" d="M976 664H1007"/><text class="f" x="1012" y="664" transform="rotate(180 1012 664)">LogSparseButterflyMixer</text></g>
<g transform="rotate(324.6 664 664)"><path class="lf" d="M964 664h12"/><path class="ds" d="M976 664H1007"/><text class="f" x="1012" y="664" transform="rotate(180 1012 664)">GatedExtrapolationMemoryNet</text></g>
<g transform="rotate(327.0 664 664)"><path class="lf" d="M964 664h12"/><path class="ds" d="M976 664H1007"/><text class="f" x="1012" y="664" transform="rotate(180 1012 664)">OverlapAwareLowRankNet</text></g>
<g transform="rotate(329.3 664 664)"><path class="lf" d="M964 664h12"/><path class="ds" d="M976 664H1007"/><text class="f" x="1012" y="664" transform="rotate(180 1012 664)">SpectralCausalDiffuser</text></g>
<g transform="rotate(331.7 664 664)"><path class="lf" d="M954 664h12"/><path class="ds" d="M966 664H1007"/><text class="f" x="1012" y="664" transform="rotate(180 1012 664)">KryoHierarchicNet</text></g>
<g transform="rotate(334.0 664 664)"><path class="lf" d="M954 664h12"/><path class="ds" d="M966 664H1007"/><text class="f" x="1012" y="664" transform="rotate(180 1012 664)">GraphDiffuseMemoryNet</text></g>
<g transform="rotate(336.3 664 664)"><path class="lf" d="M954 664h12"/><path class="ds" d="M966 664H1007"/><text class="f" x="1012" y="664" transform="rotate(180 1012 664)">LaplaceMemoryNet</text></g>
<g transform="rotate(338.7 664 664)"><path class="lf" d="M954 664h12"/><path class="ds" d="M966 664H1007"/><text class="f" x="1012" y="664" transform="rotate(180 1012 664)">RoPE-ScaledNet</text></g>
<g transform="rotate(341.0 664 664)"><path class="lf" d="M954 664h12"/><path class="ds" d="M966 664H1007"/><text class="f" x="1012" y="664" transform="rotate(180 1012 664)">GatedEMAReNet</text></g>
<g transform="rotate(343.3 664 664)"><path class="lf" d="M954 664h12"/><path class="ds" d="M966 664H1007"/><text class="f" x="1012" y="664" transform="rotate(180 1012 664)">FrobeniusClipNet</text></g>
<g transform="rotate(345.7 664 664)"><path class="lf" d="M954 664h12"/><path class="ds" d="M966 664H1007"/><text class="f" x="1012" y="664" transform="rotate(180 1012 664)">ExpoChunkRecNet</text></g>
<g transform="rotate(348.0 664 664)"><path class="lf" d="M974 664h12"/><path class="ds" d="M986 664H1007"/><text class="f" x="1012" y="664" transform="rotate(180 1012 664)">GraphChunkProp</text></g>
<g transform="rotate(350.4 664 664)"><path class="lf" d="M974 664h12"/><path class="ds" d="M986 664H1007"/><text class="f" x="1012" y="664" transform="rotate(180 1012 664)">CondensaNet</text></g>
<g transform="rotate(352.7 664 664)"><path class="lf" d="M974 664h12"/><path class="ds" d="M986 664H1007"/><text class="f" x="1012" y="664" transform="rotate(180 1012 664)">SpectralCausalMix</text></g>
<g transform="rotate(355.0 664 664)"><path class="lf" d="M974 664h12"/><path class="ds" d="M986 664H1007"/><text class="f" x="1012" y="664" transform="rotate(180 1012 664)">HarmonicFieldNet</text></g>
<g transform="rotate(357.4 664 664)"><path class="lf" d="M974 664h12"/><path class="ds" d="M986 664H1007"/><text class="f" x="1012" y="664" transform="rotate(180 1012 664)">GraphFieldDiffusionNet</text></g>
<g transform="rotate(359.7 664 664)"><path class="lf" d="M974 664h12"/><path class="ds" d="M986 664H1007"/><text class="f" x="1012" y="664" transform="rotate(180 1012 664)">LongRangeStateNet</text></g>
</g>
<g id="root">
<rect x="583" y="680" width="168" height="70" rx="10" fill="#6cab46"/>
<text x="667" y="700" style="font-size:21px;font-weight:normal;fill:#fff;text-anchor:middle">ASI-ARCH</text>
<text x="667" y="731" style="font-size:18px;font-weight:normal;fill:#fff;text-anchor:middle">Evolution Tree</text>
</g>
</svg>
